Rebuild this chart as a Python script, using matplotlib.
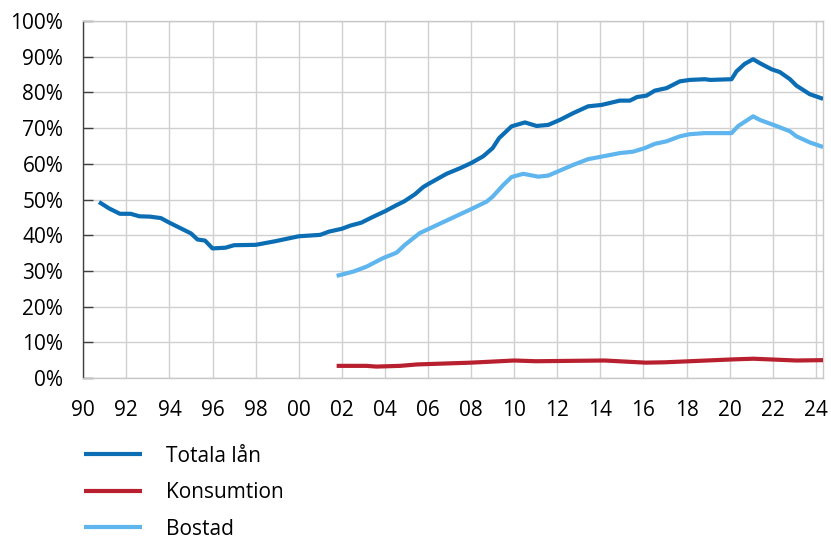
#!/usr/bin/env python

import numpy as np
import matplotlib as mpl
import matplotlib.pyplot as plt

mpl.rc('font', family=['Open Sans', 'DejaVu Sans'], size=15)
mpl.rc('savefig', dpi=100)

# Totala lån, share in percent, x in decimal years
total_year = [1990.73, 1991.2, 1991.7, 1992.2, 1992.6, 1993.1, 1993.6, 1994.0,
              1994.5, 1995.0, 1995.3, 1995.65, 1996.0, 1996.6, 1997.0, 1998.0,
              1998.9, 2000.0, 2001.0, 2001.4, 2002.0, 2002.4, 2002.9, 2003.4,
              2004.0, 2004.5, 2004.9, 2005.4, 2005.78, 2006.0, 2006.86, 2007.5,
              2008.0, 2008.56, 2009.0, 2009.3, 2009.88, 2010.5, 2011.04, 2011.58,
              2012.12, 2012.74, 2013.43, 2014.06, 2014.9, 2015.37, 2015.7, 2016.14,
              2016.53, 2017.07, 2017.69, 2018.15, 2018.85, 2019.1, 2020.09, 2020.32,
              2020.7, 2021.09, 2021.4, 2021.94, 2022.33, 2022.8, 2023.1, 2023.72,
              2024.34]
total_val = [49.3, 47.5, 46.0, 46.0, 45.3, 45.2, 44.8, 43.5,
             42.0, 40.5, 38.8, 38.5, 36.3, 36.5, 37.2, 37.3,
             38.3, 39.7, 40.1, 41.0, 41.8, 42.7, 43.5, 45.0,
             46.7, 48.3, 49.5, 51.5, 53.5, 54.3, 57.2, 58.8,
             60.2, 62.1, 64.4, 67.2, 70.5, 71.6, 70.6, 70.9,
             72.3, 74.2, 76.1, 76.5, 77.7, 77.7, 78.7, 79.1,
             80.5, 81.2, 83.1, 83.5, 83.7, 83.5, 83.7, 85.9,
             88.0, 89.3, 88.2, 86.5, 85.7, 83.7, 81.9, 79.5,
             78.2]

# Bostad
home_year = [2001.76, 2002.53, 2003.15, 2003.92, 2004.54, 2004.93, 2005.62,
             2006.86, 2008.0, 2008.72, 2009.0, 2009.5, 2009.88, 2010.42, 2011.11,
             2011.58, 2012.12, 2012.74, 2013.43, 2014.13, 2014.9, 2015.52,
             2016.06, 2016.53, 2017.07, 2017.69, 2018.15, 2018.85, 2020.09,
             2020.4, 2021.09, 2021.4, 2022.17, 2022.8, 2023.1, 2023.72, 2024.34]
home_val = [28.6, 29.8, 31.2, 33.6, 35.1, 37.3, 40.6,
            44.1, 47.3, 49.4, 50.8, 54.1, 56.3, 57.2, 56.4,
            56.7, 58.1, 59.7, 61.3, 62.1, 63.0, 63.4,
            64.4, 65.6, 66.3, 67.7, 68.3, 68.6, 68.6,
            70.6, 73.3, 72.3, 70.6, 69.1, 67.7, 66.0, 64.7]

# Konsumtion
cons_year = [2001.76, 2003.15, 2003.6, 2004.7, 2005.5, 2008.0, 2010.0, 2011.0,
             2014.2, 2016.1, 2017.0, 2020.1, 2021.1, 2023.1, 2024.34]
cons_val = [3.4, 3.4, 3.2, 3.4, 3.8, 4.3, 4.9, 4.7,
            4.9, 4.3, 4.4, 5.2, 5.4, 4.9, 5.0]

xticks = list(range(1990, 2025, 2))
xticklabels = ['%02d' % (y % 100) for y in xticks]
yticks = list(range(0, 101, 10))


def main() -> None:

    fig = plt.figure(figsize=(8.31, 5.39), dpi=100)
    ax = fig.add_axes([0.1002, 0.2987, 0.8906, 0.6623])

    ax.plot(total_year, total_val, lw=3.0, color='#0b6eb4',
            label='Totala lån', zorder=3, solid_capstyle='butt')
    ax.plot(cons_year, cons_val, lw=3.0, color='#b8202f',
            label='Konsumtion', zorder=3, solid_capstyle='butt')
    ax.plot(home_year, home_val, lw=3.0, color='#5fb5ee',
            label='Bostad', zorder=3, solid_capstyle='butt')

    ax.set_xlim(1990, 2024.35)
    ax.set_ylim(0, 100)
    ax.set_xticks(xticks)
    ax.set_xticklabels(xticklabels)
    ax.set_yticks(yticks)
    ax.set_yticklabels(['%d%%' % v for v in yticks])

    ax.grid(True, color='#d0d0d0', lw=1.0, zorder=0)
    for s in ('top', 'right', 'bottom'):
        ax.spines[s].set_color('#c8c8c8')
        ax.spines[s].set_linewidth(1.0)
    ax.spines['left'].set_color('#404040')
    ax.spines['left'].set_linewidth(1.0)

    ax.tick_params(axis='y', direction='in', length=7, width=1.0,
                   color='#404040', pad=14.4, labelsize=15)
    ax.tick_params(axis='x', length=0, pad=15.5, labelsize=15)

    fig.legend(
        loc='upper left',
        bbox_to_anchor=(65 / 831, 1 - 427 / 539),
        frameon=False,
        handlelength=2.8,
        handletextpad=1.14,
        labelspacing=0.74,
        fontsize=15,
    )

    fig.savefig('out.png', dpi=100)


if __name__ == '__main__':
    main()
